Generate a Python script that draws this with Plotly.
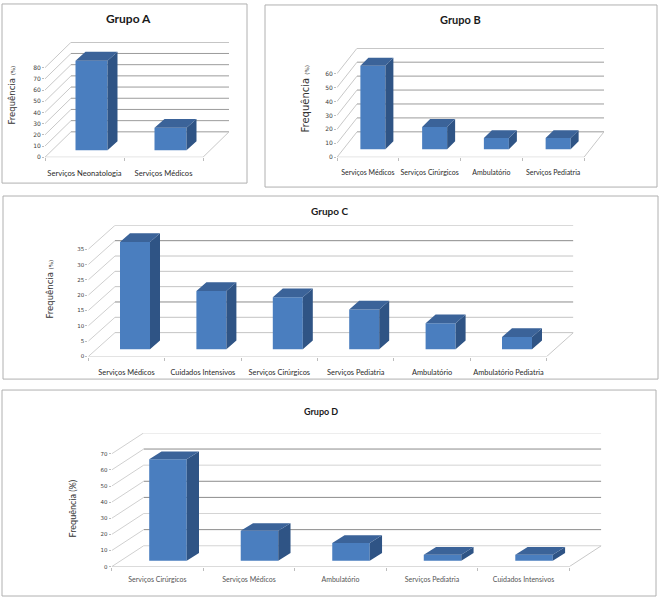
import plotly.graph_objects as go

W, H = 661, 599

# ---------------- data ----------------
titles = ["Grupo A", "Grupo B", "Grupo C", "Grupo D"]

cats_a = ["Serviços Neonatologia", "Serviços Médicos"]
vals_a = [80, 20]

cats_b = ["Serviços Médicos", "Serviços Cirúrgicos", "Ambulatório", "Serviços Pediatria"]
vals_b = [60, 16, 8, 8]

cats_c = ["Serviços Médicos", "Cuidados Intensivos", "Serviços Cirúrgicos",
          "Serviços Pediatria", "Ambulatório", "Ambulatório Pediatria"]
vals_c = [35, 19, 17, 13, 8.5, 4]

cats_d = ["Serviços Cirúrgicos", "Serviços Médicos", "Ambulatório",
          "Serviços Pediatria", "Cuidados Intensivos"]
vals_d = [63, 18.5, 11, 3.7, 3.7]

ticks_a = [0, 10, 20, 30, 40, 50, 60, 70, 80]
ticks_b = [0, 10, 20, 30, 40, 50, 60]
ticks_c = [0, 5, 10, 15, 20, 25, 30, 35]
ticks_d = [0, 10, 20, 30, 40, 50, 60, 70]

# ---------------- layout / style (pixels) ----------------
panels = [
    dict(cats=cats_a, vals=vals_a, ticks=ticks_a, title=titles[0],
         x0=45, x1=203, y0=158, ppu=1.125, wdx=26, wdy=25.5,
         shift=7, bw=32, braise=7, bdx=10, bdy=9,
         title_xy=(128, 19), title_size=12,
         ytitle_xy=(12, 96), ysize=8.5, psize=5.5,
         lab_size=7.6, lab_color="#2a2a2a", lab_standoff=10, tick_size=6,
         grid="#9c9c9c", dark=[], diag="#c8c8c8",
         box=(2, 4, 247, 184)),
    dict(cats=cats_b, vals=vals_b, ticks=ticks_b, title=titles[1],
         x0=337, x1=584, y0=158, ppu=1.4, wdx=20, wdy=25.5,
         shift=5, bw=25, braise=8, bdx=8, bdy=8,
         title_xy=(460, 20), title_size=11,
         ytitle_xy=(305, 100), ysize=10, psize=5.5,
         lab_size=7.0, lab_color="#2a2a2a", lab_standoff=10, tick_size=6,
         grid="#9c9c9c", dark=[], diag="#c8c8c8",
         box=(265, 5, 657, 188)),
    dict(cats=cats_c, vals=vals_c, ticks=ticks_c, title=titles[2],
         x0=88.3, x1=546.7, y0=358.3, ppu=3.08, wdx=26.7, wdy=24,
         shift=8.5, bw=30, braise=7.3, bdx=10, bdy=8.7,
         title_xy=(329, 212), title_size=10,
         ytitle_xy=(50, 291), ysize=8.5, psize=5.5,
         lab_size=7.4, lab_color="#2a2a2a", lab_standoff=10, tick_size=5.5,
         grid="#c4c4c4", dark=[10, 30], diag="#cfcfcf",
         box=(3, 197, 658, 381)),
    dict(cats=cats_d, vals=vals_d, ticks=ticks_d, title=titles[3],
         x0=111.7, x1=569.3, y0=569.5, ppu=1.62, wdx=32, wdy=21,
         shift=10.5, bw=37.5, braise=6, bdx=12.3, bdy=7.7,
         title_xy=(321, 414), title_size=9,
         ytitle_xy=(72, 511), ysize=9, psize=9,
         lab_size=7.0, lab_color="#555555", lab_standoff=7, tick_size=5.5,
         grid="#d4d4d4", dark=[10, 30, 40, 60], diag="#d0d0d0",
         box=(2, 392, 656, 599)),
]

FRONT = "#4a7ebf"
TOP = "#3b6399"
SIDE = "#2f5485"
LABEL_FONT = "Lato, Liberation Sans, Arial"

fig = go.Figure()
shapes = []
annotations = []
layout_axes = {}


def px2fx(px):
    return px / W


def py2fy(py):
    return 1 - py / H


for k, p in enumerate(panels, start=1):
    cats, vals, ticks = p["cats"], p["vals"], p["ticks"]
    n = len(cats)
    cat = (p["x1"] - p["x0"]) / n
    ppu = p["ppu"]
    top = ticks[-1]
    wdxu = p["wdx"] / cat
    wdyu = p["wdy"] / ppu
    xs = "" if k == 1 else str(k)
    xref, yref = "x" + xs, "y" + xs

    # axes
    y_top_px = p["y0"] - (top * ppu + p["wdy"])
    layout_axes["xaxis" + xs] = dict(
        domain=[px2fx(p["x0"]), px2fx(p["x1"] + p["wdx"])],
        range=[0, n + wdxu], anchor=yref,
        tickvals=[i + 0.5 for i in range(n)], ticktext=cats, tickangle=0,
        showgrid=False, zeroline=False, showline=False, ticks="",
        ticklabelstandoff=p["lab_standoff"],
        tickfont=dict(family=LABEL_FONT, size=p["lab_size"], color=p["lab_color"]),
        minor=dict(ticks="outside", tick0=0, dtick=1, ticklen=3,
                   tickcolor="#bdbdbd", showgrid=False),
        fixedrange=True,
    )
    layout_axes["yaxis" + xs] = dict(
        domain=[py2fy(p["y0"]), py2fy(y_top_px)],
        range=[0, top + wdyu], anchor=xref,
        tickvals=ticks, ticktext=[str(t) for t in ticks],
        showgrid=False, zeroline=False, showline=False,
        ticks="outside", ticklen=2, tickcolor="#bdbdbd",
        tickfont=dict(family="DejaVu Sans", size=p["tick_size"], color="#404040"),
        fixedrange=True,
    )

    # walls, gridlines, floor
    for t in ticks:
        col = "#8c8c8c" if t in p["dark"] else p["grid"]
        shapes.append(dict(type="line", xref=xref, yref=yref,
                           x0=wdxu, x1=n + wdxu, y0=t + wdyu, y1=t + wdyu,
                           line=dict(color=col, width=1), layer="below"))
        shapes.append(dict(type="line", xref=xref, yref=yref,
                           x0=0, x1=wdxu, y0=t, y1=t + wdyu,
                           line=dict(color=p["diag"], width=1), layer="below"))
    shapes.append(dict(type="line", xref=xref, yref=yref, x0=0, x1=n, y0=0, y1=0,
                       line=dict(color="#c8c8c8", width=1), layer="below"))
    shapes.append(dict(type="line", xref=xref, yref=yref, x0=n, x1=n + wdxu,
                       y0=0, y1=wdyu, line=dict(color="#c8c8c8", width=1), layer="below"))

    # bars (front faces)
    sh = p["shift"] / cat
    half = p["bw"] / 2 / cat
    b = p["braise"] / ppu
    ddx = p["bdx"] / cat
    ddy = p["bdy"] / ppu
    xc = [i + 0.5 + sh for i in range(n)]
    fig.add_trace(go.Bar(x=xc, y=vals, base=[b] * n, width=[2 * half] * n,
                         marker=dict(color=FRONT, line=dict(width=0)),
                         xaxis=xref, yaxis=yref, hoverinfo="skip", showlegend=False))
    # 3D top and side faces derived from the values
    tx, ty, sx, sy = [], [], [], []
    for c, v in zip(xc, vals):
        tx += [c - half, c + half, c + half + ddx, c - half + ddx, c - half, None]
        ty += [b + v, b + v, b + v + ddy, b + v + ddy, b + v, None]
        sx += [c + half, c + half, c + half + ddx, c + half + ddx, c + half, None]
        sy += [b, b + v, b + v + ddy, b + ddy, b, None]
    fig.add_trace(go.Scatter(x=sx, y=sy, fill="toself", fillcolor=SIDE, mode="lines",
                             line=dict(width=0, color=SIDE), xaxis=xref, yaxis=yref,
                             hoverinfo="skip", showlegend=False))
    fig.add_trace(go.Scatter(x=tx, y=ty, fill="toself", fillcolor=TOP, mode="lines",
                             line=dict(width=0, color=TOP), xaxis=xref, yaxis=yref,
                             hoverinfo="skip", showlegend=False))

    # titles
    tx_, ty_ = p["title_xy"]
    annotations.append(dict(text="<b>%s</b>" % p["title"], xref="paper", yref="paper",
                            x=px2fx(tx_), y=py2fy(ty_), showarrow=False,
                            xanchor="center", yanchor="middle",
                            font=dict(family=LABEL_FONT, size=p["title_size"], color="#1a1a1a")))
    yx, yy = p["ytitle_xy"]
    if k == 4:
        ytxt = "Frequência (%)"
        yfam = LABEL_FONT
    else:
        ytxt = "Frequência <span style='font-size:%spx'>(%%)</span>" % p["psize"]
        yfam = "DejaVu Sans"
    annotations.append(dict(text=ytxt, xref="paper", yref="paper",
                            x=px2fx(yx), y=py2fy(yy), showarrow=False, textangle=-90,
                            xanchor="center", yanchor="middle",
                            font=dict(family=yfam, size=p["ysize"], color="#333333")))

    # panel border
    bx0, by0, bx1, by1 = p["box"]
    shapes.append(dict(type="rect", xref="paper", yref="paper",
                       x0=px2fx(bx0), x1=px2fx(bx1), y0=py2fy(by1), y1=py2fy(by0),
                       line=dict(color="#b0b0b0", width=1), layer="below"))

fig.update_layout(width=W, height=H, margin=dict(l=0, r=0, t=0, b=0),
                  paper_bgcolor="white", plot_bgcolor="rgba(0,0,0,0)",
                  barmode="overlay", shapes=shapes, annotations=annotations,
                  showlegend=False, **layout_axes)

fig.write_html("out.html", config={"displayModeBar": False},
               post_script="document.body.style.margin='0';document.body.style.overflow='hidden';")
